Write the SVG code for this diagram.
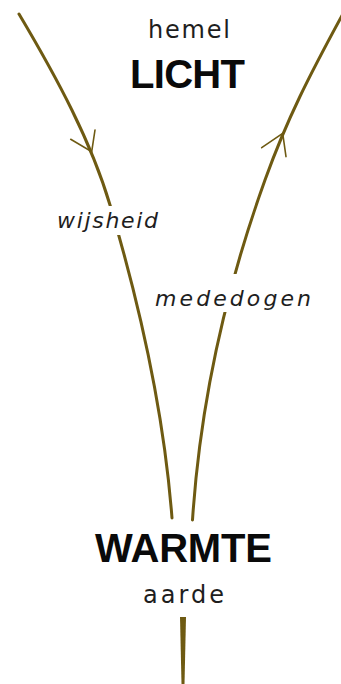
<svg xmlns="http://www.w3.org/2000/svg" width="341" height="684" viewBox="0 0 341 684">
<style>
.flow{fill:none;stroke:#6e5a12;stroke-width:3;stroke-linecap:round}
.head{fill:none;stroke:#6e5a12;stroke-width:1.6;stroke-linecap:round}
.lbl{font-family:"DejaVu Sans","Liberation Sans",sans-serif;fill:#1e1e1e}
.big{font-family:"Liberation Sans",Arial,sans-serif;font-weight:bold;fill:#0a0a0a;font-size:40px}
.small{font-size:24px}
.it{font-style:italic;font-size:22px}
.mask{fill:#fff}
</style>
<rect width="341" height="684" fill="#fff"/>
<g id="connectors">
  <path class="flow" d="M19,14 C57,78 91,141 110,205 C141,309 164,414 172,518"/>
  <path class="flow" d="M345,10 C309.5,75 287,119 265,180 C223.6,295 200,405 192.5,520"/>
  <polygon points="180,617 186,617 184.5,684 181.5,684" fill="#6e5a12"/>
  <polyline class="head" points="70.7,139.3 91.7,151.7 95,130"/>
  <polyline class="head" points="261.7,147.7 282.7,133.3 286,156.7"/>
</g>
<g id="hemel">
  <text class="lbl small" x="148" y="38" textLength="82" lengthAdjust="spacing">hemel</text>
</g>
<g id="licht">
  <text class="big" x="130" y="88" textLength="115" lengthAdjust="spacing">LICHT</text>
</g>
<g id="wijsheid">
  <rect class="mask" x="54" y="206" width="108" height="29"/>
  <text class="lbl it" x="57" y="228" textLength="101" lengthAdjust="spacing">wijsheid</text>
</g>
<g id="mededogen">
  <rect class="mask" x="150" y="274" width="166" height="38"/>
  <text class="lbl it" x="155" y="306" textLength="156" lengthAdjust="spacing">mededogen</text>
</g>
<g id="warmte">
  <text class="big" x="95" y="562" textLength="177" lengthAdjust="spacing">WARMTE</text>
</g>
<g id="aarde">
  <text class="lbl small" x="143" y="603" textLength="81" lengthAdjust="spacing">aarde</text>
</g>
</svg>
